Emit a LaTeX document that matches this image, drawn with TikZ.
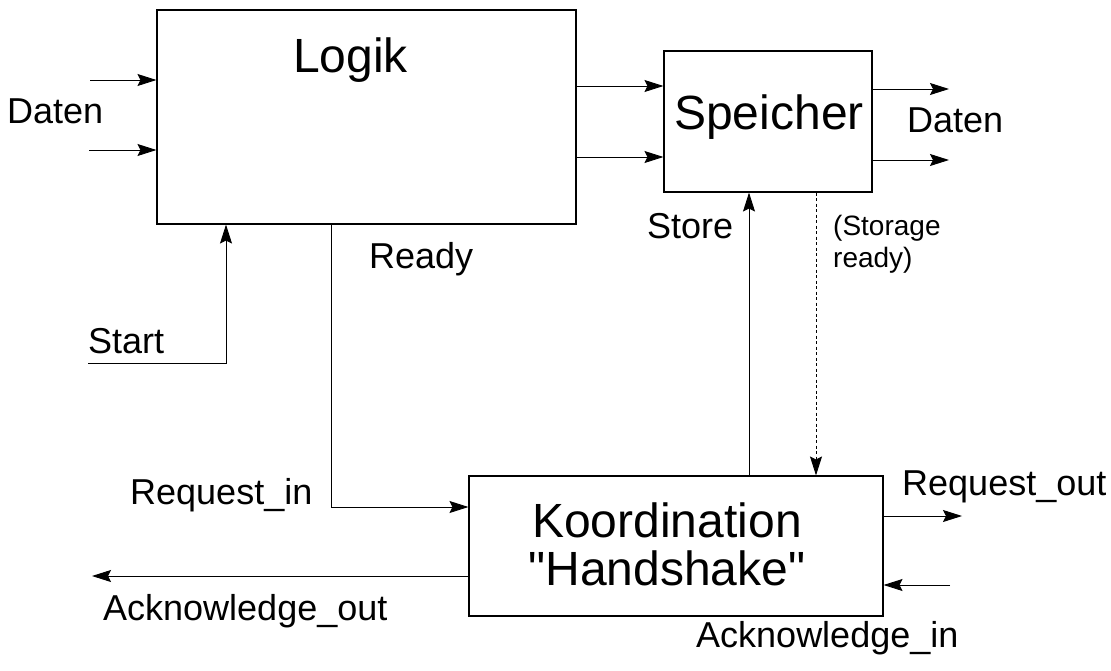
\documentclass[tikz,border=0pt]{standalone}
\usepackage{fontspec}
\setmainfont{Liberation Sans}[Ligatures=TeXOff]
\usetikzlibrary{arrows.meta}
\begin{document}
\begin{tikzpicture}[x=1pt,y=-1pt,
  block/.style={draw, line width=1.1pt, inner sep=0pt},
  wire/.style={line width=0.9pt},
  arr/.style={wire, -{Stealth[length=19pt,width=12pt,inset=3pt]}},
  dotwire/.style={dash pattern=on 3pt off 2.5pt},
  big/.style={font=\fontsize{48}{52}\selectfont, inner sep=0pt},
  lbl/.style={font=\fontsize{36}{40}\selectfont, inner sep=0pt, anchor=base west},
  small/.style={font=\fontsize{28}{32}\selectfont, inner sep=0pt, anchor=base west},
]
\useasboundingbox (0,0) rectangle (1111,670);

% blocks
\node[block, minimum width=419pt, minimum height=214pt] (logik) at (366.5,117) {};
\node[block, minimum width=208pt, minimum height=141pt] (speicher) at (768,121.5) {};
\node[block, minimum width=414pt, minimum height=140pt] (koord) at (676,546) {};

% block titles
\node[big, anchor=base west] (logiklbl) at (293,72) {Logik};
\node[big, anchor=base] (speicherlbl) at (769,129) {Speicher};
\node[big, anchor=base] (koordlbl) at (667,537) {Koordination};
\node[big, anchor=base] (handlbl) at (667,585) {"Handshake"};

% helper points for the wires
\coordinate (din1) at (90,80);
\coordinate (din2) at (89,150);
\coordinate (row1) at (0,86);
\coordinate (row2) at (0,157);
\coordinate (dout1) at (949,89);
\coordinate (dout2) at (949,160);
\coordinate (start) at (88,363);
\coordinate (startup) at (226,363);
\coordinate (rdy) at (331,507);
\coordinate (st) at (749,0);
\coordinate (sr) at (816,0);
\coordinate (rqo) at (962,516);
\coordinate (aki) at (950,585);
\coordinate (ako) at (92,576);

% data path
\draw[arr] (din1) -- (din1 -| logik.west);
\draw[arr] (din2) -- (din2 -| logik.west);
\draw[arr] (logik.east |- row1) -- (speicher.west |- row1);
\draw[arr] (logik.east |- row2) -- (speicher.west |- row2);
\draw[arr] (speicher.east |- dout1) -- (dout1);
\draw[arr] (speicher.east |- dout2) -- (dout2);

% control path
\draw[arr] (start) -- (startup) -- (startup |- logik.south);
\draw[arr] (logik.south -| rdy) -- (rdy) -- (rdy -| koord.west);
\draw[arr] (koord.north -| st) -- (speicher.south -| st);
\draw[arr, dotwire] (speicher.south -| sr) -- (koord.north -| sr);
\draw[arr] (koord.east |- rqo) -- (rqo);
\draw[arr] (aki) -- (aki -| koord.east);
\draw[arr] (koord.west |- ako) -- (ako);

% signal labels
\node[lbl] (datenin) at (7,123) {Daten};
\node[lbl] (datenout) at (907,132) {Daten};
\node[lbl] (startlbl) at (88,353) {Start};
\node[lbl] (readylbl) at (369,268) {Ready};
\node[lbl] (storelbl) at (647,238) {Store};
\node[small] (srlbl1) at (833,235) {(Storage};
\node[small] (srlbl2) at (833,267) {ready)};
\node[lbl] (reqin) at (130,504) {Request\_in};
\node[lbl] (reqout) at (902,495) {Request\_out};
\node[lbl] (ackout) at (103,620) {Acknowledge\_out};
\node[lbl] (ackin) at (696,647) {Acknowledge\_in};
\end{tikzpicture}
\end{document}
